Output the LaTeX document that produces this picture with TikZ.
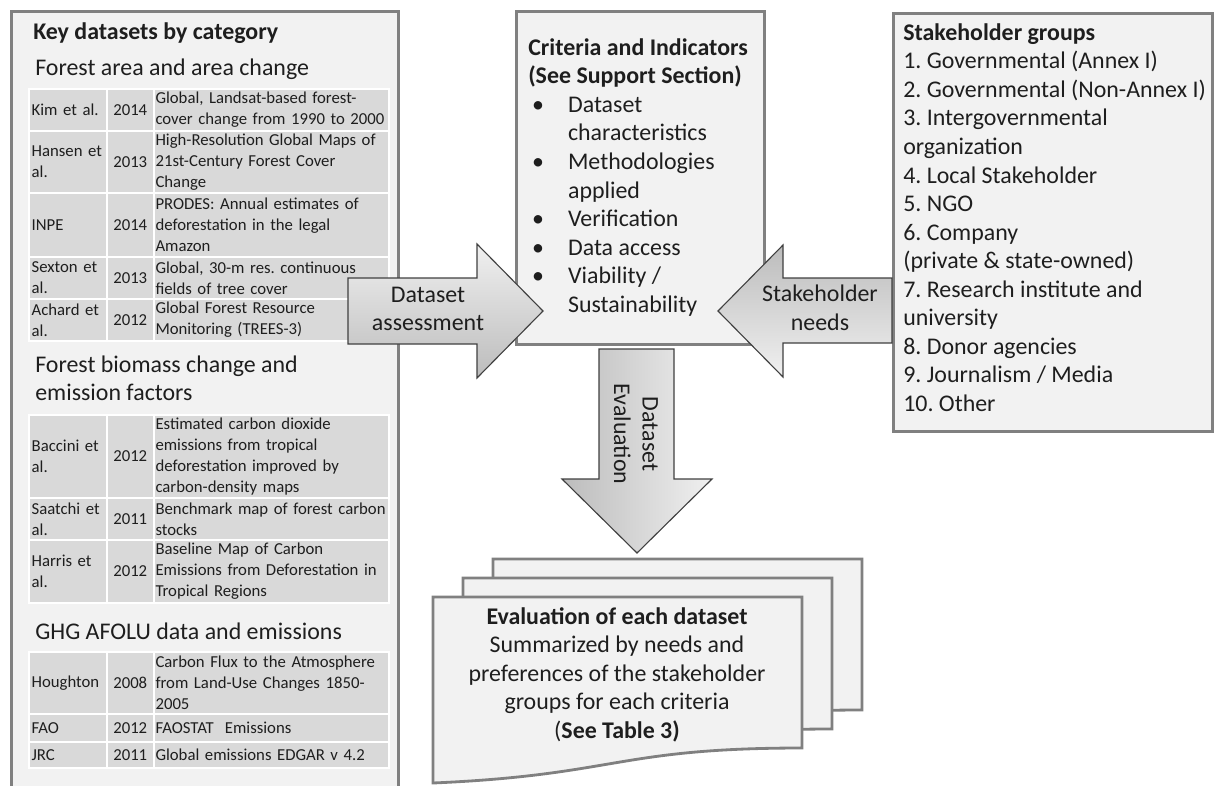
\documentclass[tikz,border=0pt]{standalone}
\usepackage{fontspec}
\setmainfont{Carlito}
\definecolor{panelfill}{RGB}{242,242,242}
\definecolor{panelline}{RGB}{128,128,128}
\definecolor{cellgray}{RGB}{217,217,217}
\definecolor{arrowlight}{RGB}{240,240,240}
\definecolor{arrowdark}{RGB}{188,188,188}
\definecolor{arrowline}{RGB}{64,64,64}
\definecolor{inktext}{RGB}{30,30,30}
\newcommand{\bodysize}{\fontsize{17}{20.3}\selectfont}
\newcommand{\cellsize}{\fontsize{11.9}{14.9}\selectfont}
\newcommand{\critbullet}{\makebox[28.3pt][l]{\hspace{2.8pt}\textbullet}}

\begin{document}
\frenchspacing
\begin{tikzpicture}[x=0.025cm,y=-0.025cm,
  panel/.style={draw=panelline,fill=panelfill,line width=2pt,anchor=north west,inner sep=0pt},
  docpage/.style={draw=panelline,fill=panelfill,line width=2pt,line join=miter},
  cell/.style={fill=cellgray,draw=white,line width=1.2pt,anchor=north west,inner xsep=2pt,inner ysep=0pt,font=\cellsize,text=inktext},
  namecell/.style={cell,text width=51.3pt,align=left},
  yearcell/.style={cell,text width=29.3pt,align=center},
  titlecell/.style={cell,inner xsep=1.2pt,text width=164.8pt,align=left},
  heading/.style={anchor=base west,inner sep=0pt,font=\bodysize,text=inktext},
  textblock/.style={anchor=north west,inner sep=0pt,align=left,font=\bodysize,text=inktext},
  blockarrow/.style={draw=arrowline,line width=0.8pt,line join=miter},
  arrowtext/.style={font=\bodysize,align=center,text=inktext,inner sep=0pt}]

    \useasboundingbox (0,0) rectangle (1216,785);

    \coordinate (assesstail) at (348,311);
    \coordinate (needstip) at (718,311);
    \coordinate (evaltail) at (599,349);

    \node[panel,minimum width=9.675cm,minimum height=20cm] (keydata) at (10,10) {};
    \node[panel,minimum width=6.2cm,minimum height=8.325cm] (criteria) at (515,10) {};
    \node[panel,minimum width=7.975cm,minimum height=10.45cm] (groups) at (892,12) {};

    \node[heading,font=\bodysize\bfseries] (keytitle) at (33,39) {Key datasets by category};
    \node[heading] (areahead) at (35,75) {Forest area and area change};
    \node[textblock] (biomasshead) at (35,352) {\strut Forest biomass change and\\emission factors};
    \node[heading] (ghghead) at (35,639) {GHG AFOLU data and emissions};

    \node[namecell,minimum height=1.05cm] (kim) at (28,88) {Kim et al.};
    \node[yearcell,minimum height=1.05cm] (kimyr) at (106,88) {2014};
    \node[titlecell,minimum height=1.05cm] (kimds) at (153,88) {Global, Landsat-based forest-\\cover change from 1990 to 2000};
    \node[namecell,minimum height=1.55cm] (hansen) at (28,130) {Hansen et\\al.};
    \node[yearcell,minimum height=1.55cm] (hansenyr) at (106,130) {2013};
    \node[titlecell,minimum height=1.55cm] (hansends) at (153,130) {High-Resolution Global Maps of\\21st-Century Forest Cover\\Change};
    \node[namecell,minimum height=1.6cm] (inpe) at (28,192) {INPE};
    \node[yearcell,minimum height=1.6cm] (inpeyr) at (106,192) {2014};
    \node[titlecell,minimum height=1.6cm] (inpeds) at (153,192) {PRODES: Annual estimates of\\deforestation in the legal\\Amazon};
    \node[namecell,minimum height=1.05cm] (sexton) at (28,256) {Sexton et\\al.};
    \node[yearcell,minimum height=1.05cm] (sextonyr) at (106,256) {2013};
    \node[titlecell,minimum height=1.05cm] (sextonds) at (153,256) {Global, 30-m res. continuous\\fields of tree cover};
    \node[namecell,minimum height=1.05cm] (achard) at (28,298) {Achard et\\al.};
    \node[yearcell,minimum height=1.05cm] (achardyr) at (106,298) {2012};
    \node[titlecell,minimum height=1.05cm] (achardds) at (153,298) {Global Forest Resource\\Monitoring (TREES-3)};

    \node[namecell,minimum height=2.075cm] (baccini) at (28,414) {Baccini et\\al.};
    \node[yearcell,minimum height=2.075cm] (bacciniyr) at (106,414) {2012};
    \node[titlecell,minimum height=2.075cm] (baccinids) at (153,414) {Estimated carbon dioxide\\emissions from tropical\\deforestation improved by\\carbon-density maps};
    \node[namecell,minimum height=1.05cm] (saatchi) at (28,497) {Saatchi et\\al.};
    \node[yearcell,minimum height=1.05cm] (saatchiyr) at (106,497) {2011};
    \node[titlecell,minimum height=1.05cm] (saatchids) at (153,497) {Benchmark map of forest carbon\\stocks};
    \node[namecell,minimum height=1.575cm] (harris) at (28,539) {Harris et\\al.};
    \node[yearcell,minimum height=1.575cm] (harrisyr) at (106,539) {2012};
    \node[titlecell,minimum height=1.575cm] (harrisds) at (153,539) {Baseline Map of Carbon\\Emissions from Deforestation in\\Tropical Regions};

    \node[namecell,minimum height=1.55cm] (houghton) at (28,651) {Houghton};
    \node[yearcell,minimum height=1.55cm] (houghtonyr) at (106,651) {2008};
    \node[titlecell,minimum height=1.55cm] (houghtonds) at (153,651) {Carbon Flux to the Atmosphere\\from Land-Use Changes 1850-\\2005};
    \node[namecell,minimum height=0.7cm] (fao) at (28,713) {FAO};
    \node[yearcell,minimum height=0.7cm] (faoyr) at (106,713) {2012};
    \node[titlecell,minimum height=0.7cm] (faods) at (153,713) {FAOSTAT\ \ Emissions};
    \node[namecell,minimum height=0.65cm] (jrc) at (28,741) {JRC};
    \node[yearcell,minimum height=0.65cm] (jrcyr) at (106,741) {2011};
    \node[titlecell,minimum height=0.65cm] (jrcds) at (153,741) {Global emissions EDGAR v 4.2};

    \node[textblock] (critlist) at (528,35) {\strut\textbf{Criteria and Indicators}\\
      \textbf{(See Support Section)}\\
      \critbullet Dataset\\
      \hspace*{28.3pt}characteristics\\
      \critbullet Methodologies\\
      \hspace*{28.3pt}applied\\
      \critbullet Verification\\
      \critbullet Data access\\
      \critbullet Viability /\\
      \hspace*{28.3pt}Sustainability};

    \node[textblock] (grouplist) at (903,20) {\strut\textbf{Stakeholder groups}\\
      1. Governmental (Annex I)\\
      2. Governmental (Non-Annex I)\\
      3. Intergovernmental\\
      organization\\
      4. Local Stakeholder\\
      5. NGO\\
      6. Company\\
      (private \& state-owned)\\
      7. Research institute and\\
      university\\
      8. Donor agencies\\
      9. Journalism / Media\\
      10. Other};

    \draw[docpage,shift={(60,-38)}] (433,597) -- (802,597) -- (802,748) .. controls (617,748) and (617,775) .. (433,783) -- cycle;
    \draw[docpage,shift={(30,-19)}] (433,597) -- (802,597) -- (802,748) .. controls (617,748) and (617,775) .. (433,783) -- cycle;
    \draw[docpage] (433,597) -- (802,597) -- (802,748) .. controls (617,748) and (617,775) .. (433,783) -- cycle;
    \node[textblock,anchor=north,align=center] (evalnote) at (617,604) {\strut\textbf{Evaluation of each dataset}\\
      Summarized by needs and\\
      preferences of the stakeholder\\
      groups for each criteria\\
      (\textbf{See Table 3)}};

    \draw[blockarrow,top color=arrowlight,bottom color=arrowdark] (assesstail) ++(0,-33) -- ++(129,0) -- ++(0,-34) -- ++(66,67) -- ++(-66,67) -- ++(0,-34) -- ++(-129,0) -- cycle;
    \draw[blockarrow,top color=arrowdark,bottom color=arrowlight] (needstip) -- ++(65,-66) -- ++(0,33) -- ++(109,0) -- ++(0,65) -- ++(-109,0) -- ++(0,34) -- cycle;
    \draw[blockarrow,left color=arrowdark,right color=arrowlight] (evaltail) -- ++(75,0) -- ++(0,130) -- ++(38,0) -- ++(-75,74) -- ++(-75,-74) -- ++(37,0) -- cycle;

    \node[arrowtext] (assesslabel) at (428,309) {Dataset\\assessment};
    \node[arrowtext] (needslabel) at (820,308) {Stakeholder\\needs};
    \node[arrowtext,rotate=-90] (evallabel) at (636,434) {Dataset\\Evaluation};
\end{tikzpicture}
\end{document}
